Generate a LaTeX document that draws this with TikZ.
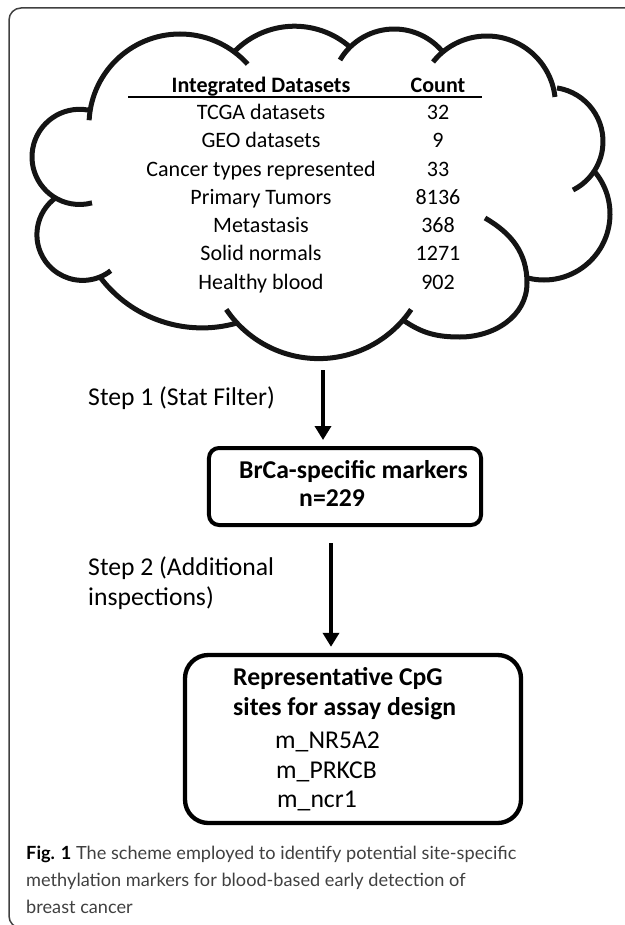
\documentclass[tikz,border=0pt]{standalone}
\usepackage{fontspec}
\setmainfont{Carlito}
\newfontfamily\capfont{Lato}
\usepackage{tikz}
\usetikzlibrary{arrows.meta}

% one bump of the cloud: centre x, centre y, radius, start angle, end angle
\newcommand{\cloudarc}[5]{\draw[cloudline] (#1,#2) ++(#4:#3) arc[start angle=#4, end angle=#5, radius=#3];}

\begin{document}
\begin{tikzpicture}[x=0.03cm, y=0.03cm,
	cloudline/.style={line width=0.15cm, black!92},
	tbl/.style={anchor=base, inner sep=0pt, font=\fontsize{18.8}{22}\selectfont},
	tblhead/.style={tbl, font=\fontsize{18.8}{22}\selectfont\bfseries},
	steplabel/.style={anchor=base west, inner sep=0pt, font=\fontsize{21.9}{26}\selectfont},
	boxtext/.style={anchor=base west, inner sep=0pt, font=\fontsize{21.9}{26}\selectfont\bfseries},
	sitetext/.style={anchor=base west, inner sep=0pt, font=\fontsize{21.9}{26}\selectfont},
	markerbox/.style={draw, line width=0.12cm, minimum width=8.16cm, minimum height=2.31cm, rounded corners=0.3cm},
	sitebox/.style={draw, line width=0.13cm, minimum width=10.08cm, minimum height=5.04cm, rounded corners=0.7cm},
	flow/.style={-{Triangle[width=0.48cm,length=0.42cm]}, line width=0.12cm, shorten >=0.18cm},
	captext/.style={anchor=base west, inner sep=0pt, font=\capfont\fontsize{15.5}{19}\selectfont, text=black!75}]

\useasboundingbox (0,0) rectangle (625,-925);
\clip (0,0) rectangle (625,-925);

% outer panel
\draw[line width=0.045cm, black!75, rounded corners=0.36cm] (9,-8) rectangle (640,-928);

% the cloud
\cloudarc{180}{-125}{91}{177}{42}
\cloudarc{294.6}{-110.3}{84.1}{135.1}{48.8}
\cloudarc{394.2}{-91.9}{62.9}{149.5}{40.6}
\cloudarc{486.8}{-104.6}{68.6}{141.6}{6.4}
\cloudarc{548.8}{-141.5}{54.2}{81.3}{-63.5}
\cloudarc{544}{-214}{66}{41.9}{-104}
\draw[cloudline] (403,-320) to[out=-35,in=180] (460,-337) to[out=0,in=-90] (527,-283) to[out=90,in=-30] (485,-218);
\cloudarc{318.7}{-247.1}{111.5}{-146}{-34}
\cloudarc{202}{-200.2}{127.7}{-143}{-74.1}
\cloudarc{82.6}{-234.7}{45.7}{125}{308}
\cloudarc{79.6}{-156.9}{47.6}{79.8}{285.1}

% table in the cloud
\node[tblhead] (hdname) at (261,-92) {Integrated Datasets};
\node[tblhead] (hdcount) at (438,-92) {Count};
\draw[line width=0.06cm] (128,-97) -- (482,-97);

\node[tbl] (tcga) at (261,-119) {TCGA datasets};
\node[tbl] (tcgan) at (438,-119) {32};
\node[tbl] (geo) at (261,-147) {GEO datasets};
\node[tbl] (geon) at (438,-147) {9};
\node[tbl] (types) at (261,-176) {Cancer types represented};
\node[tbl] (typesn) at (438,-176) {33};
\node[tbl] (prim) at (261,-204) {Primary Tumors};
\node[tbl] (primn) at (438,-204) {8136};
\node[tbl] (meta) at (261,-232) {Metastasis};
\node[tbl] (metan) at (438,-232) {368};
\node[tbl] (solid) at (261,-260) {Solid normals};
\node[tbl] (solidn) at (438,-260) {1271};
\node[tbl] (blood) at (261,-289) {Healthy blood};
\node[tbl] (bloodn) at (438,-289) {902};

% step 1
\coordinate (cloudfoot) at (323,-370);
\node[steplabel] (step1) at (88,-405) {Step 1 (Stat Filter)};
\node[markerbox] (brca) at (345,-486.5) {};
\node[boxtext] (brcatxt) at (239,-478) {BrCa-specific markers};
\node[boxtext] (brcan) at (299,-506) {n=229};
	\draw[flow] (cloudfoot) -- (cloudfoot |- brca.north);

% step 2
\coordinate (brcafoot) at (331,-543);
\node[steplabel] (step2a) at (88,-575) {Step 2 (Additional};
\node[steplabel] (step2b) at (88,-605) {inspections)};
\node[sitebox] (cpg) at (353,-739) {};
\node[boxtext] (cpgtxt1) at (233,-685) {Representative CpG};
\node[boxtext] (cpgtxt2) at (233,-715) {sites for assay design};
\node[sitetext] (nr5a2) at (275,-748) {m\_NR5A2};
\node[sitetext] (prkcb) at (276,-778) {m\_PRKCB};
\node[sitetext] (ncr1) at (277,-807) {m\_ncr1};
	\draw[flow] (brcafoot) -- (brcafoot |- cpg.north);

% caption
\node[captext] (cap1) at (26,-859) {\textcolor{black}{\bfseries Fig. 1} The scheme employed to identify potential site-specific};
\node[captext] (cap2) at (26,-886) {methylation markers for blood-based early detection of};
\node[captext] (cap3) at (26,-913) {breast cancer};
\end{tikzpicture}
\end{document}
